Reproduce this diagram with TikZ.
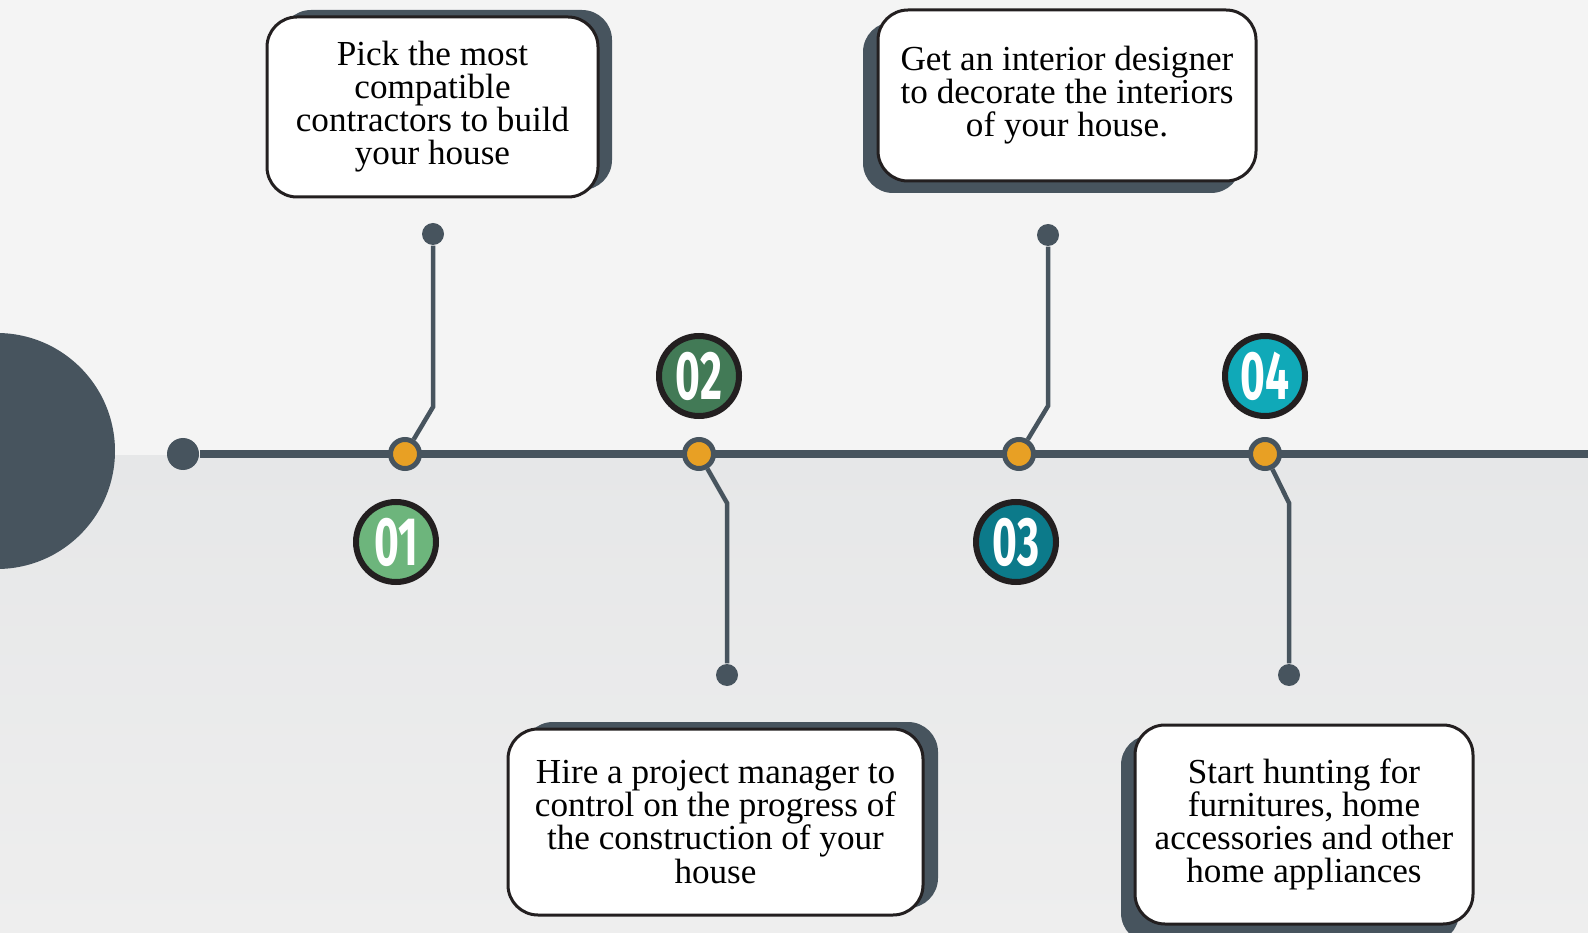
\documentclass[tikz,border=0pt]{standalone}
\usepackage{fontspec}
\setmainfont{Liberation Serif}
\newfontfamily\numfont[FakeStretch=0.62]{Fira Sans}
\usetikzlibrary{positioning}
\definecolor{slate}{HTML}{47545E}
\definecolor{ink}{HTML}{231F20}
\definecolor{dotorange}{HTML}{E8A024}
\definecolor{bgtop}{HTML}{F4F4F4}
\definecolor{bglowA}{HTML}{E6E7E8}
\definecolor{bglowB}{HTML}{EEEEEE}
\definecolor{stepA}{HTML}{6DB57C}
\definecolor{stepB}{HTML}{427A56}
\definecolor{stepC}{HTML}{0C7A8A}
\definecolor{stepD}{HTML}{10A9B8}
\tikzset{
  stop/.style={circle, draw=slate, fill=dotorange, line width=0.05cm, minimum size=0.29cm, inner sep=0pt},
  pin/.style={circle, fill=slate, minimum size=0.22cm, inner sep=0pt},
  badge/.style={circle, draw=ink, fill=#1, line width=0.06cm, minimum size=0.80cm, inner sep=0pt, text=white, font=\numfont\bfseries\fontsize{19.5}{19.5}\selectfont},
  note/.style={rounded corners=0.3cm, draw=ink, fill=white, line width=0.03cm, align=center, inner sep=0pt, font=\fontsize{10}{9.4}\selectfont},
  shadow/.style={rounded corners=0.3cm, fill=slate},
  leg/.style={slate, line width=0.045cm}
}
\begin{document}
\begin{tikzpicture}
	% background
	\useasboundingbox (0,0) rectangle (15.88,-9.33);
	\fill [bgtop] (0,0) rectangle (15.88,-4.55);
	\shade [top color=bglowA, bottom color=bglowB] (0,-4.55) rectangle (15.88,-9.33);
	\begin{scope}
	\clip (0,0) rectangle (15.88,-9.33);
	\fill [slate] (-0.03,-4.51) circle [radius=1.18];
	\end{scope}

	% timeline
	\node [circle, fill=slate, minimum size=0.32cm, inner sep=0pt] (start) at (1.83,-4.54) {};
	\coordinate (end) at (15.88,-4.54);
	\draw [slate, line width=0.07cm] (start) -- (end);

	% stops on the line
	\node [stop] (t1) at (4.05,-4.54) {};
	\node [stop] (t2) at (6.99,-4.54) {};
	\node [stop] (t3) at (10.19,-4.54) {};
	\node [stop] (t4) at (12.65,-4.54) {};

	% legs
	\node [pin] (e1) at (4.33,-2.34) {};
	\node [pin] (e2) at (7.27,-6.75) {};
	\node [pin] (e3) at (10.48,-2.35) {};
	\node [pin] (e4) at (12.89,-6.75) {};
	\coordinate (b1) at (4.33,-4.07);
	\coordinate (b2) at (7.27,-5.03);
	\coordinate (b3) at (10.48,-4.06);
	\coordinate (b4) at (12.89,-5.03);
	\draw [leg] (t1) -- (b1) -- (e1);
	\draw [leg] (t2) -- (b2) -- (e2);
	\draw [leg] (t3) -- (b3) -- (e3);
	\draw [leg] (t4) -- (b4) -- (e4);

	% numbers
	\node [badge=stepA] (n1) at (3.96,-5.42) {01};
	\node [badge=stepB] (n2) at (6.99,-3.76) {02};
	\node [badge=stepC] (n3) at (10.16,-5.42) {03};
	\node [badge=stepD] (n4) at (12.65,-3.76) {04};

	% boxes
	\fill [shadow] (2.81,-0.10) rectangle (6.12,-1.90);
	\node [note, minimum width=3.31cm, minimum height=1.80cm] (box1) at (4.325,-1.07) {Pick the most\\compatible\\contractors to build\\your house};
	\fill [shadow] (5.23,-7.22) rectangle (9.38,-9.08);
	\node [note, minimum width=4.15cm, minimum height=1.86cm] (box2) at (7.155,-8.22) {Hire a project manager to\\control on the progress of\\the construction of your\\house};
	\fill [shadow] (8.63,-0.22) rectangle (12.41,-1.93);
	\node [note, minimum width=3.78cm, minimum height=1.71cm] (box3) at (10.67,-0.955) {Get an interior designer\\to decorate the interiors\\of your house.};
	\fill [shadow] (11.21,-7.35) rectangle (14.59,-9.43);
	\node [note, minimum width=3.38cm, minimum height=1.99cm] (box4) at (13.04,-8.245) {Start hunting for\\furnitures, home\\accessories and other\\home appliances};
\end{tikzpicture}
\end{document}
